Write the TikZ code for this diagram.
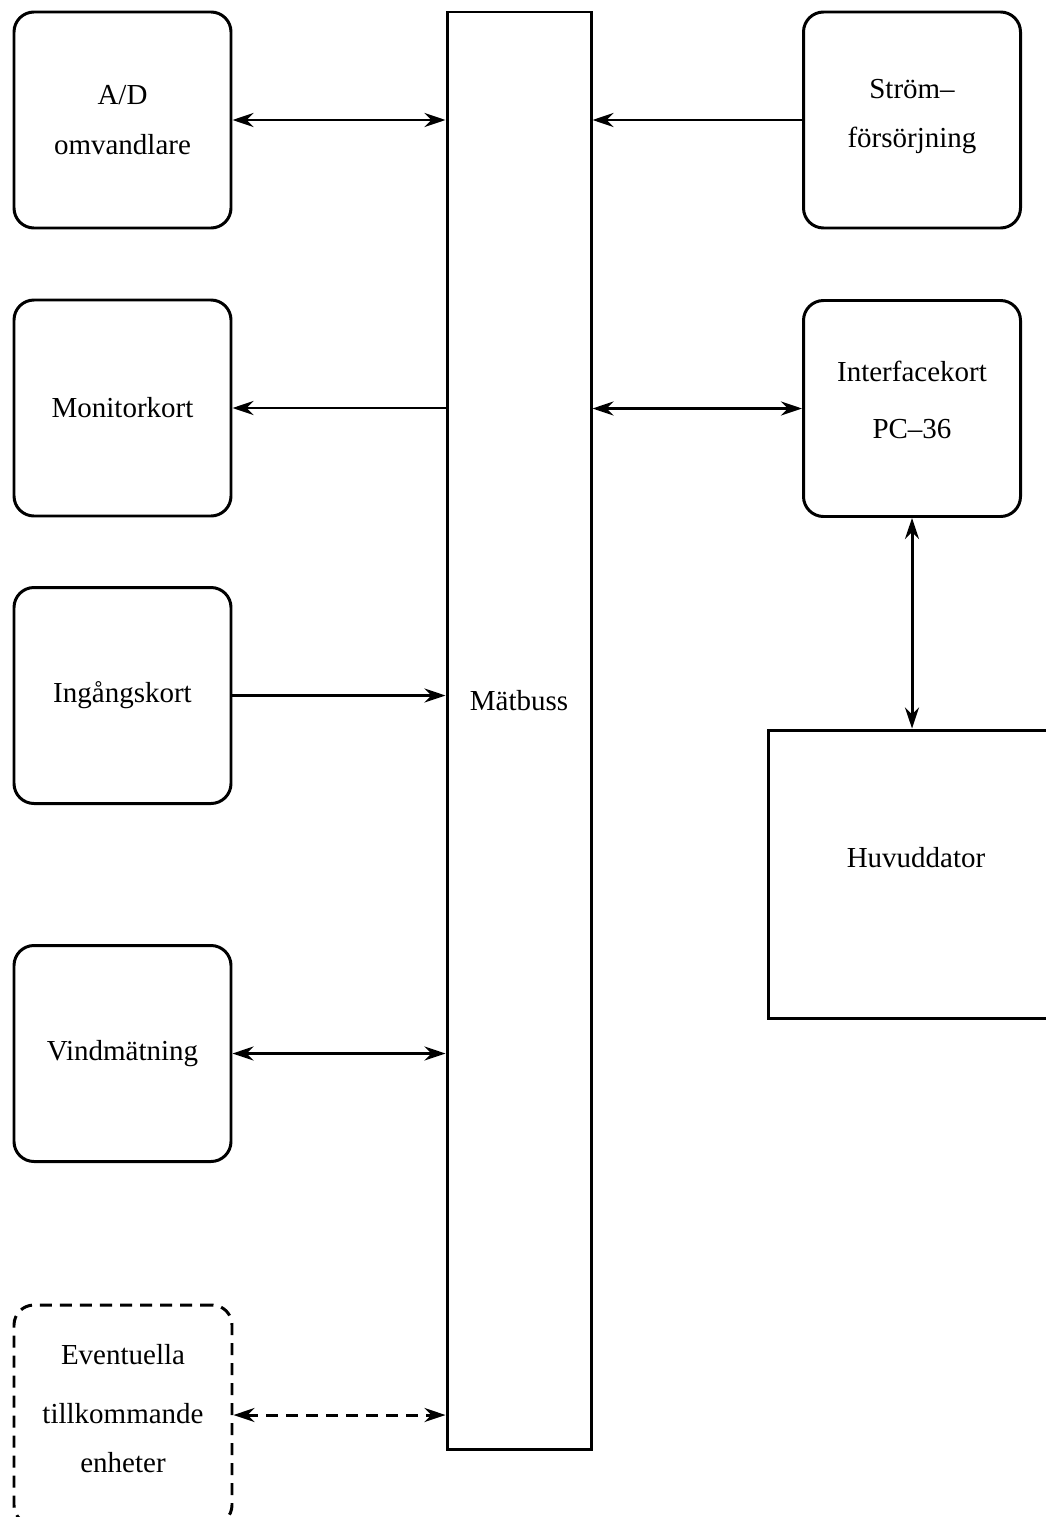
\documentclass[tikz,border=0pt]{standalone}
\usepackage{fontspec}
\setmainfont{Liberation Serif}
\usetikzlibrary{positioning,arrows.meta,calc}
\tikzset{
  unit/.style={draw, line width=1.7pt, rounded corners=0.4cm, minimum width=4.34cm, minimum height=4.32cm, align=center, font=\fontsize{16.5}{28}\selectfont},
  plain/.style={draw, line width=1.7pt, align=center, font=\fontsize{16.5}{28}\selectfont},
  link/.style={line width=1.7pt},
  tip/.tip={Stealth[length=4.2mm,width=2.8mm,inset=1.4mm]},
  maybe/.style={dash pattern=on 0.24cm off 0.16cm}
}
\begin{document}
\begin{tikzpicture}
\useasboundingbox (0,0) rectangle (20.9,-30.34);
% units on the left
\node[unit] (ad) at (2.45,-2.40) {A/D\\omvandlare};
\node[unit] (mon) at (2.45,-8.16) {Monitorkort};
\node[unit] (ing) at (2.45,-13.91) {Ingångskort};
\node[unit] (vind) at (2.45,-21.07) {Vindmätning};
\node[unit, maybe, minimum width=4.36cm, minimum height=4.40cm] (evt) at (2.46,-28.30) {Eventuella\\[0.2cm]tillkommande\\enheter\\[-0.71cm]};
% the bus
\node[plain, minimum width=2.88cm, minimum height=28.74cm, label={[font=\fontsize{16.5}{28}\selectfont, yshift=0.6cm]center:Mätbuss}] (bus) at (10.38,-14.61) {};
% right side
\node[unit] (strom) at (18.24,-2.40) {Ström--\\försörjning\\[-0.71cm]};
\node[unit] (intf) at (18.24,-8.17) {Interfacekort\\[0.15cm]PC--36\\[-0.63cm]};
\node[plain, minimum width=5.92cm, minimum height=5.76cm, label={[font=\fontsize{16.5}{28}\selectfont, yshift=0.32cm]center:Huvuddator}] (huvud) at (18.32,-17.48) {};
% connections
\draw[link, tip-tip] (ad.east) -- (ad.east -| bus.west);
\draw[link, -tip] (mon.east -| bus.west) -- (mon.east);
\draw[link, -tip] (ing.east) -- (ing.east -| bus.west);
\draw[link, tip-tip] (vind.east) -- (vind.east -| bus.west);
\draw[link, maybe, tip-tip] (evt.east) -- (evt.east -| bus.west);
\draw[link, -tip] (strom.west) -- (strom.west -| bus.east);
\draw[link, tip-tip] (intf.west -| bus.east) -- (intf.west);
\draw[link, tip-tip] (intf.south) -- (intf.south |- huvud.north);
\end{tikzpicture}
\end{document}
